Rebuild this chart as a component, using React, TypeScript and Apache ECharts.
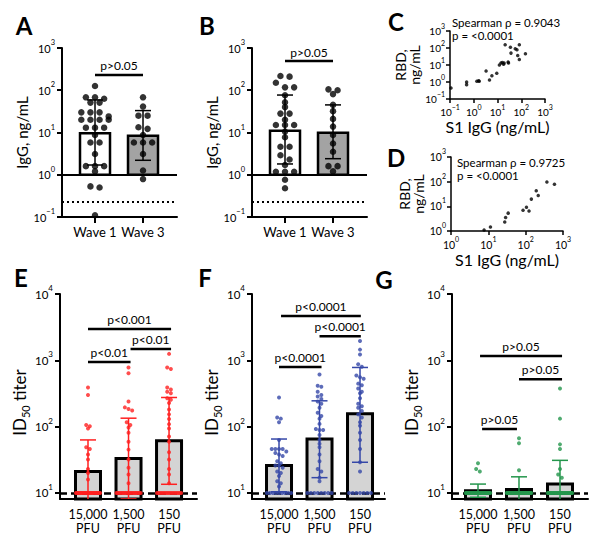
import React, { useEffect, useRef } from 'react';
import * as echarts from 'echarts';

const FONT = 'Lato, "Noto Sans", sans-serif';

// ---------- Panels A & B : IgG (ng/mL) by wave ----------
const WAVES = ['Wave 1', 'Wave 3'];
const A_WAVE1 = [126, 68, 68, 63, 51, 51, 30, 30, 30, 24, 20, 20, 20, 20, 13, 13, 13, 8.7, 5.8, 5.8, 3.1, 1.6, 1.6, 1.6, 1.2, 0.53, 0.5, 0.11];
const A_WAVE3 = [68, 41, 25, 25, 13.3, 12.2, 8.7, 5.8, 5.8, 5.8, 3.1, 1.26, 0.79];
const A_MEAN = [9.6, 8.4];
const A_ERR_LOW = [1.7, 2.2];
const A_ERR_HIGH = [59, 33];
const A_P_Y = 230;

const B_WAVE1 = [218, 210, 150, 117, 117, 76, 52, 40, 28, 28, 20, 15, 15, 15, 10.5, 7.7, 4.6, 4.6, 2.9, 2.3, 1.7, 1.18, 1.18, 1.18, 0.76, 0.48];
const B_WAVE3 = [105, 100, 81, 45, 32, 21, 13.8, 8.7, 5.5, 3.5, 1.6, 1.6, 1.2];
const B_MEAN = [11, 9.9];
const B_ERR_LOW = [1.8, 2.4];
const B_ERR_HIGH = [77, 45];
const B_P_Y = 490;
const AB_P_TEXT = 'p>0.05';
const AB_DETECTION = 0.23;
const TICKS_AB = [0.1, 1, 10, 100, 1000];

// ---------- Panels C & D : RBD vs S1 IgG ----------
const C_S1 = [0.11, 0.5, 0.5, 1.35, 1.6, 1.7, 3.3, 4.6, 5.8, 9.3, 12, 14, 16, 18, 19, 28, 29, 21, 35, 37, 56, 66, 83, 71, 83, 150];
const C_RBD = [0.45, 1.0, 0.7, 1.1, 1.2, 1.1, 4.4, 1.3, 2.3, 3.3, 10, 13, 14, 11, 13, 15, 13, 155, 112, 50, 91, 79, 155, 36, 21, 46];
const C_TEXT = ['Spearman ρ = 0.9043', 'p = <0.0001'];
const D_S1 = [7.7, 11.4, 27.5, 29, 34, 85, 105, 123, 142, 192, 217, 370, 590];
const D_RBD = [1.1, 1.45, 2.3, 3.5, 5.3, 7, 9.2, 6.5, 19.6, 43, 27.5, 97, 78];
const D_TEXT = ['Spearman ρ = 0.9725', 'p = <0.0001'];
const TICKS_D = [1, 10, 100, 1000];

// ---------- Panels E, F, G : ID50 titer by dose ----------
const DOSES = ['15,000', '1,500', '150'];
const LOD = 10;
const EFG_MIN = 8.1;
const TICKS_EFG = [10, 100, 1000, 10000];

const E_ABOVE = [
  [390, 300, 106, 101, 94, 49, 46, 38, 32, 23, 20, 16],
  [780, 640, 240, 195, 185, 175, 116, 106, 97, 81, 59, 45, 32, 24, 19, 14],
  [1250, 780, 740, 390, 364, 336, 318, 268, 254, 227, 181, 153, 130, 109, 94, 71, 59, 41, 32, 23, 19, 14],
];
const E_AT_LOD = [28, 22, 18];
const E_MEAN = [21, 33, 61];
const E_ERR_LOW = [7, 8.1, 13.5];
const E_ERR_HIGH = [63, 134, 275];
const E_SIG = [
  { from: 1.0, to: 3.05, y: 2960, text: 'p<0.001' },
  { from: 2.05, to: 3.05, y: 1480, text: 'p<0.01' },
  { from: 1.0, to: 2.05, y: 940, text: 'p<0.01' },
];

const F_ABOVE = [
  [275, 137, 132, 116, 63, 46, 46, 46, 46, 42, 40, 38, 36, 30, 28, 26, 26, 24, 21, 20, 18, 15, 14, 12.5],
  [610, 412, 398, 336, 300, 284, 260, 240, 222, 192, 162, 145, 132, 110, 92, 89, 89, 75, 63, 55, 49, 38, 30, 23, 21, 17, 15],
  [1960, 1450, 1225, 870, 800, 590, 557, 527, 445, 421, 376, 336, 318, 268, 222, 203, 192, 172, 153, 137, 116, 103, 81, 63, 46, 29, 21],
];
const F_AT_LOD = [9, 8, 7];
const F_MEAN = [26, 65, 157];
const F_ERR_LOW = [10.4, 17, 29];
const F_ERR_HIGH = [65, 245, 780];
const F_SIG = [
  { from: 1.05, to: 3.02, y: 4650, text: 'p<0.0001' },
  { from: 2.0, to: 3.02, y: 2300, text: 'p<0.0001' },
  { from: 1.0, to: 2.05, y: 790, text: 'p<0.0001' },
];

const G_ABOVE = [
  [28, 23, 21],
  [67, 56, 22],
  [376, 132, 54, 46, 23, 19, 17],
];
const G_AT_LOD = [36, 36, 32];
const G_MEAN = [10.8, 11.3, 13.6];
const G_ERR_LOW = [8.6, 7.3, 6];
const G_ERR_HIGH = [13.6, 17.5, 31];
const G_SIG = [
  { from: 1.05, to: 3.05, y: 1160, text: 'p>0.05' },
  { from: 2.0, to: 3.05, y: 520, text: 'p>0.05' },
  { from: 1.1, to: 1.95, y: 92, text: 'p>0.05' },
];

type Sig = { from: number; to: number; y: number; text: string };

// beeswarm-like column scatter, computed from the values
function swarm(values: number[], center: number, bin: number, dx: number, maxHalf: number): number[][] {
  const sorted = [...values].sort((a, b) => b - a);
  const out: number[][] = [];
  let i = 0;
  while (i < sorted.length) {
    const start = Math.log10(sorted[i]);
    let j = i + 1;
    while (j < sorted.length && start - Math.log10(sorted[j]) <= bin) j++;
    const n = j - i;
    const step = n > 1 ? Math.min(dx, (2 * maxHalf) / (n - 1)) : 0;
    for (let k = 0; k < n; k++) out.push([center + (k - (n - 1) / 2) * step, sorted[i + k]]);
    i = j;
  }
  return out;
}

const sup = (v: number) => {
  const e = Math.round(Math.log10(v));
  return `{b|10}{s|${e < 0 ? '−' + Math.abs(e) : String(e)}}`;
};

function richLabel(size: number, supSize: number, margin: number) {
  const pad = Math.round(supSize * 0.5);
  return {
    formatter: sup,
    margin,
    color: '#000',
    padding: [0, 0, pad, 0],
    rich: {
      b: { fontFamily: FONT, fontSize: size, color: '#000', padding: [pad, 0, 0, 0] },
      s: { fontFamily: FONT, fontSize: supSize, color: '#000', verticalAlign: 'top', lineHeight: supSize },
    },
  };
}

const axisLine = (w: number) => ({ show: true, onZero: false, lineStyle: { color: '#000', width: w } });

function logAxis(gi: number, min: number, max: number, ticks: number[], o: any) {
  return {
    gridIndex: gi,
    type: 'log',
    logBase: 10,
    min,
    max,
    axisLine: axisLine(o.lw),
    axisTick: { show: true, customValues: ticks, length: o.tickLen, lineStyle: { color: '#000', width: o.lw } },
    axisLabel: { ...richLabel(o.size, o.supSize, o.margin), customValues: ticks },
    splitLine: { show: false },
    minorTick: { show: false },
    name: o.name,
    nameLocation: 'middle',
    nameGap: o.nameGap,
    nameRotate: o.rotate ? 90 : 0,
    nameTextStyle: o.nameStyle,
  };
}

function catAxis(gi: number, min: number, max: number, labels: string[], o: any) {
  const vals = labels.map((_, i) => i + 1);
  return {
    gridIndex: gi,
    type: 'value',
    min,
    max,
    axisLine: axisLine(2),
    axisTick: o.ticks
      ? { show: true, customValues: vals, length: 6, lineStyle: { color: '#000', width: 2 } }
      : { show: false },
    axisLabel: {
      customValues: vals,
      formatter: (v: number) => labels[Math.round(v) - 1] ?? '',
      fontFamily: FONT,
      fontSize: o.size,
      lineHeight: o.lineHeight,
      color: '#000',
      margin: o.margin,
    },
    splitLine: { show: false },
  };
}

function barSeries(gi: number, values: number[], base: number, width: number, fills: string[], lw: number) {
  return {
    type: 'custom',
    xAxisIndex: gi,
    yAxisIndex: gi,
    z: 2,
    silent: true,
    clip: false,
    data: values.map((v, i) => [i + 1, v]),
    encode: { x: 0, y: 1 },
    renderItem: (params: any, api: any) => {
      const x = api.value(0);
      const top = api.coord([x, api.value(1)]);
      const bot = api.coord([x, base]);
      return {
        type: 'rect',
        shape: { x: top[0] - width / 2, y: top[1], width, height: bot[1] - top[1] },
        style: { fill: fills[params.dataIndex], stroke: '#000', lineWidth: lw },
      };
    },
  };
}

function errSeries(gi: number, lo: number[], hi: number[], color: string, lw: number, cap: number, clip: boolean) {
  return {
    type: 'custom',
    xAxisIndex: gi,
    yAxisIndex: gi,
    z: 6,
    silent: true,
    clip,
    data: lo.map((l, i) => [i + 1, l, hi[i]]),
    encode: { x: 0, y: [1, 2] },
    renderItem: (params: any, api: any) => {
      const x = api.value(0);
      const a = api.coord([x, api.value(1)]);
      const b = api.coord([x, api.value(2)]);
      const st = { stroke: color, lineWidth: lw };
      return {
        type: 'group',
        children: [
          { type: 'line', shape: { x1: a[0], y1: a[1], x2: b[0], y2: b[1] }, style: st },
          { type: 'line', shape: { x1: a[0] - cap, y1: a[1], x2: a[0] + cap, y2: a[1] }, style: st },
          { type: 'line', shape: { x1: b[0] - cap, y1: b[1], x2: b[0] + cap, y2: b[1] }, style: st },
        ],
      };
    },
  };
}

function sigSeries(gi: number, sig: Sig[], lift: number) {
  return {
    type: 'custom',
    xAxisIndex: gi,
    yAxisIndex: gi,
    z: 8,
    silent: true,
    clip: false,
    data: sig.map((s) => [s.from, s.to, s.y]),
    encode: { x: [0, 1], y: 2 },
    renderItem: (params: any, api: any) => {
      const s = sig[params.dataIndex];
      const a = api.coord([api.value(0), api.value(2)]);
      const b = api.coord([api.value(1), api.value(2)]);
      return {
        type: 'group',
        children: [
          { type: 'line', shape: { x1: a[0], y1: a[1], x2: b[0], y2: b[1] }, style: { stroke: '#000', lineWidth: 2.5 } },
          {
            type: 'text',
            style: {
              text: s.text,
              x: (a[0] + b[0]) / 2,
              y: a[1] - lift,
              fill: '#000',
              fontSize: 12,
              fontFamily: FONT,
              align: 'center',
              verticalAlign: 'middle',
              textAlign: 'center',
              textVerticalAlign: 'middle',
            },
          },
        ],
      };
    },
  };
}

function abSeries(gi: number, w1: number[], w3: number[], mean: number[], lo: number[], hi: number[], pY: number) {
  return [
    barSeries(gi, mean, 1, 30, ['#ffffff', '#a3a3a3'], 2.5),
    errSeries(gi, lo, hi, '#000', 1.5, 8, false),
    {
      type: 'scatter',
      xAxisIndex: gi,
      yAxisIndex: gi,
      z: 7,
      silent: true,
      symbol: 'circle',
      symbolSize: 6.5,
      itemStyle: { color: '#000' },
      data: [...swarm(w1, 1, 0.11, 0.19, 0.4), ...swarm(w3, 2, 0.11, 0.19, 0.4)],
      markLine: {
        silent: true,
        symbol: ['none', 'none'],
        label: { show: false },
        data: [
          { yAxis: 1, lineStyle: { color: '#000', width: 2, type: 'solid' } },
          { yAxis: AB_DETECTION, lineStyle: { color: '#000', width: 2, type: [2, 3] } },
        ],
      },
    },
    sigSeries(gi, [{ from: 1, to: 2, y: pY, text: AB_P_TEXT }], 9),
  ];
}

function efgSeries(gi: number, above: number[][], atLod: number[], mean: number[], lo: number[], hi: number[], sig: Sig[], color: string) {
  const pts = above.flatMap((vals, i) =>
    swarm([...vals, ...new Array(atLod[i]).fill(LOD)], i + 1, 0.05, 0.09, 0.3)
  );
  return [
    barSeries(gi, mean, EFG_MIN, 25, ['#d4d4d4', '#d4d4d4', '#d4d4d4'], 3),
    errSeries(gi, lo, hi, color, 1.5, 8, true),
    {
      type: 'scatter',
      xAxisIndex: gi,
      yAxisIndex: gi,
      z: 7,
      silent: true,
      symbol: 'circle',
      symbolSize: 4,
      itemStyle: { color },
      data: pts,
      markLine: {
        silent: true,
        symbol: ['none', 'none'],
        label: { show: false },
        lineStyle: { color: '#000', width: 2.5, type: [7, 4] },
        data: [{ yAxis: LOD }],
      },
    },
    sigSeries(gi, sig, 9.5),
  ];
}

const letter = (t: string, x: number, y: number) => ({
  type: 'text',
  x,
  y,
  silent: true,
  style: {
    text: t,
    fill: '#000',
    fontSize: 24,
    fontWeight: 'bold',
    fontFamily: FONT,
    align: 'center',
    verticalAlign: 'middle',
    textAlign: 'center',
    textVerticalAlign: 'middle',
  },
});

const note = (t: string, x: number, y: number) => ({
  type: 'text',
  x,
  y,
  silent: true,
  style: {
    text: t,
    fill: '#000',
    fontSize: 11.5,
    fontFamily: FONT,
    align: 'left',
    verticalAlign: 'middle',
    textAlign: 'left',
    textVerticalAlign: 'middle',
  },
});

const GRIDS = [
  { left: 62, top: 48, width: 115, height: 169 },
  { left: 252, top: 48, width: 115, height: 169 },
  { left: 450, top: 31, width: 95, height: 68 },
  { left: 451, top: 157, width: 112, height: 74 },
  { left: 60, top: 294, width: 137, height: 205 },
  { left: 252, top: 294, width: 133, height: 205 },
  { left: 452, top: 294, width: 136, height: 205 },
].map((g) => ({ ...g, containLabel: false, outerBoundsMode: 'none' }));

const nameAB = { fontFamily: FONT, fontSize: 15, color: '#000' };
const nameCD = { fontFamily: FONT, fontSize: 14, lineHeight: 14, color: '#000' };
const nameS1 = { fontFamily: FONT, fontSize: 16, color: '#000' };
const nameID = {
  fontFamily: FONT,
  color: '#000',
  padding: [0, 12, 0, 0],
  rich: {
    n: { fontFamily: FONT, fontSize: 17, color: '#000', padding: [0, 0, 3, 0] },
    sub: { fontFamily: FONT, fontSize: 11, color: '#000', verticalAlign: 'bottom', lineHeight: 11 },
  },
};
const ID_NAME = '{n|ID}{sub|50}{n| titer}';

const abY = { lw: 2, tickLen: 5, size: 11, supSize: 7.5, margin: 7, name: 'IgG, ng/mL', nameGap: 31, rotate: true, nameStyle: nameAB };
const efgY = (gap: number) => ({ lw: 2, tickLen: 5, size: 11.5, supSize: 8, margin: 7, name: ID_NAME, nameGap: gap, rotate: true, nameStyle: nameID });
const waveX = { ticks: true, margin: 8, size: 13, lineHeight: 14 };
const doseX = { ticks: false, margin: 9, size: 12.5, lineHeight: 13.5 };
const DOSE_LABELS = DOSES.map((d) => `${d}\nPFU`);

function buildOption() {
  return {
    backgroundColor: '#fff',
    animation: false,
    textStyle: { fontFamily: FONT },
    grid: GRIDS,
    xAxis: [
      catAxis(0, 0.3125, 2.708, WAVES, waveX),
      catAxis(1, 0.3125, 2.708, WAVES, waveX),
      logAxis(2, 0.1, 1000, TICKS_AB, { lw: 1.5, tickLen: 4, size: 10, supSize: 7, margin: 4, name: 'S1 IgG (ng/mL)', nameGap: 19, rotate: false, nameStyle: nameS1 }),
      logAxis(3, 1, 1000, TICKS_D, { lw: 1.5, tickLen: 4, size: 10.5, supSize: 7, margin: 4, name: 'S1 IgG (ng/mL)', nameGap: 20, rotate: false, nameStyle: nameS1 }),
      catAxis(4, 0.309, 3.69, DOSE_LABELS, doseX),
      catAxis(5, 0.333, 3.617, DOSE_LABELS, doseX),
      catAxis(6, 0.366, 3.683, DOSE_LABELS, doseX),
    ],
    yAxis: [
      logAxis(0, 0.1, 1000, TICKS_AB, abY),
      logAxis(1, 0.1, 1000, TICKS_AB, abY),
      logAxis(2, 0.1, 1000, TICKS_AB, { lw: 1.5, tickLen: 4, size: 10, supSize: 7, margin: 5, name: 'RBD,\nng/mL', nameGap: 25, rotate: true, nameStyle: nameCD }),
      logAxis(3, 1, 1000, TICKS_D, { lw: 1.5, tickLen: 4, size: 10.5, supSize: 7, margin: 5, name: 'RBD,\nng/mL', nameGap: 26, rotate: true, nameStyle: nameCD }),
      logAxis(4, EFG_MIN, 10000, TICKS_EFG, efgY(27)),
      logAxis(5, EFG_MIN, 10000, TICKS_EFG, efgY(29)),
      logAxis(6, EFG_MIN, 10000, TICKS_EFG, efgY(29)),
    ],
    series: [
      ...abSeries(0, A_WAVE1, A_WAVE3, A_MEAN, A_ERR_LOW, A_ERR_HIGH, A_P_Y),
      ...abSeries(1, B_WAVE1, B_WAVE3, B_MEAN, B_ERR_LOW, B_ERR_HIGH, B_P_Y),
      {
        type: 'scatter',
        xAxisIndex: 2,
        yAxisIndex: 2,
        silent: true,
        symbolSize: 3.5,
        itemStyle: { color: '#000' },
        data: C_S1.map((x, i) => [x, C_RBD[i]]),
      },
      {
        type: 'scatter',
        xAxisIndex: 3,
        yAxisIndex: 3,
        silent: true,
        symbolSize: 3.5,
        itemStyle: { color: '#000' },
        data: D_S1.map((x, i) => [x, D_RBD[i]]),
      },
      ...efgSeries(4, E_ABOVE, E_AT_LOD, E_MEAN, E_ERR_LOW, E_ERR_HIGH, E_SIG, '#ff2020'),
      ...efgSeries(5, F_ABOVE, F_AT_LOD, F_MEAN, F_ERR_LOW, F_ERR_HIGH, F_SIG, '#3547a8'),
      ...efgSeries(6, G_ABOVE, G_AT_LOD, G_MEAN, G_ERR_LOW, G_ERR_HIGH, G_SIG, '#24964c'),
    ],
    graphic: [
      letter('A', 24, 25),
      letter('B', 207, 25),
      letter('C', 396, 21),
      letter('D', 396, 157),
      letter('E', 21, 277),
      letter('F', 205, 277),
      letter('G', 384, 279),
      note(C_TEXT[0], 452, 22.5),
      note(C_TEXT[1], 452, 35.5),
      note(D_TEXT[0], 457, 162.5),
      note(D_TEXT[1], 457, 175.5),
    ],
  };
}

export default function App() {
  const ref = useRef<HTMLDivElement>(null);
  useEffect(() => {
    if (!ref.current) return;
    const chart = echarts.init(ref.current, undefined, { renderer: 'svg' });
    chart.setOption(buildOption() as any);
    return () => chart.dispose();
  }, []);
  return (
    <div
      ref={ref}
      style={{ position: 'fixed', left: 0, top: 0, width: 600, height: 544, background: '#fff' }}
    />
  );
}
